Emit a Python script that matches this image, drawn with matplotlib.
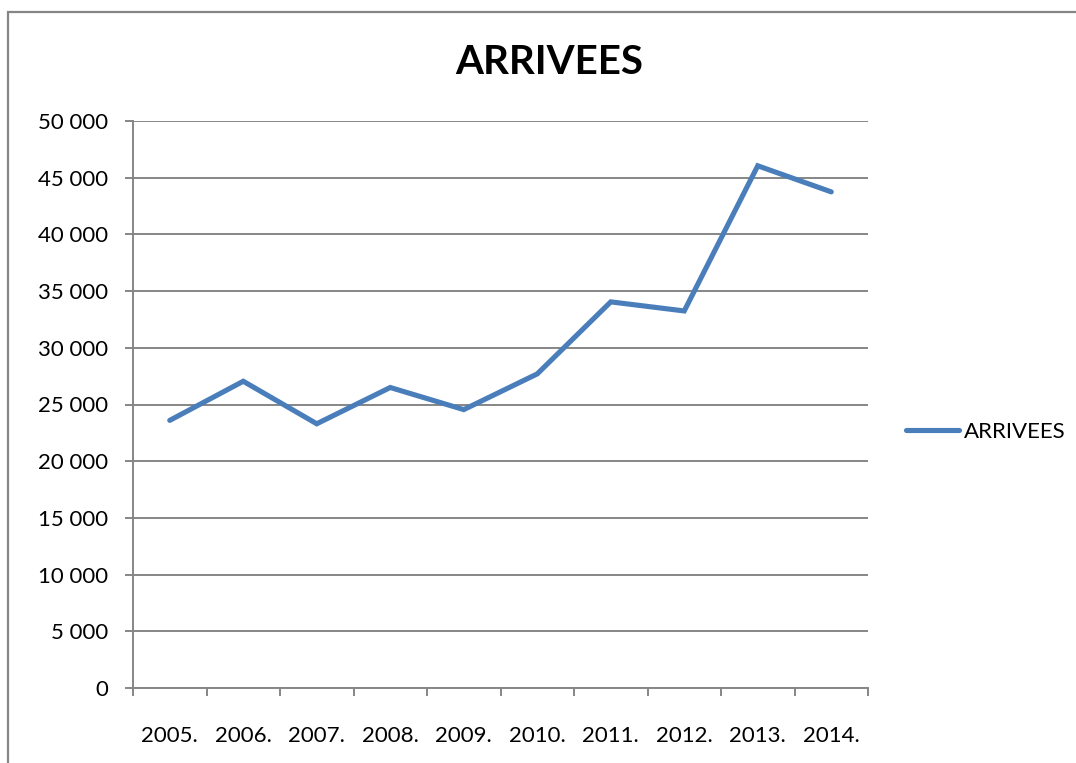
import matplotlib.pyplot as plt
from matplotlib.patches import Rectangle
from matplotlib.ticker import FuncFormatter, FixedLocator, NullFormatter

years = ['2005.', '2006.', '2007.', '2008.', '2009.', '2010.', '2011.', '2012.', '2013.', '2014.']
arrivees = [23600, 27050, 23300, 26500, 24550, 27700, 34050, 33250, 46050, 43750]

plt.rcParams['font.family'] = ['Lato', 'DejaVu Sans']
grey = '#868686'
blue = '#4A7EBB'

fig = plt.figure(figsize=(10.76, 7.63), dpi=100)
ax = fig.add_axes([133/1076, 75/763, 735/1076, 567/763])

x = list(range(len(years)))
ax.plot(x, arrivees, color=blue, lw=3.7, solid_capstyle='round',
        solid_joinstyle='miter', label='ARRIVEES', zorder=3)

ax.set_xlim(-0.5, len(years) - 0.5)
ax.set_ylim(0, 50000)
ax.set_yticks(range(0, 50001, 5000))
ax.yaxis.set_major_formatter(FuncFormatter(lambda v, p: f'{int(v):,}'.replace(',', ' ')))
ax.grid(axis='y', color=grey, lw=1.4, zorder=1)

# category boundaries as ticks, labels in the middle
ax.xaxis.set_major_locator(FixedLocator([i - 0.5 for i in range(len(years) + 1)]))
ax.xaxis.set_major_formatter(NullFormatter())
ax.xaxis.set_minor_locator(FixedLocator(x))
ax.set_xticklabels(years, minor=True)
ax.tick_params(axis='x', which='minor', length=0, pad=27, labelsize=16)
ax.tick_params(axis='x', which='major', length=6, width=1.4, color=grey, direction='out')
ax.tick_params(axis='y', length=6, width=1.4, color=grey, pad=12, labelsize=16)

for s in ['top', 'right']:
    ax.spines[s].set_visible(False)
for s in ['left', 'bottom']:
    ax.spines[s].set_color(grey)
    ax.spines[s].set_linewidth(1.4)

fig.text(549/1076, 1 - 63/763, 'ARRIVEES', ha='center', va='center',
         fontsize=29, fontweight='bold')

ax.legend(loc='center left', bbox_to_anchor=(895/1076, 1 - 432/763),
          bbox_transform=fig.transFigure, frameon=False, fontsize=16,
          handlelength=2.4, handletextpad=0.2, borderpad=0)

# outer chart frame (cut off at right and bottom)
fig.patches.append(Rectangle((8/1076, -0.1), 1.2, 1.1 - 12/763, transform=fig.transFigure,
                             fill=False, edgecolor=grey, lw=1.6))

plt.savefig('out.png', dpi=100)
